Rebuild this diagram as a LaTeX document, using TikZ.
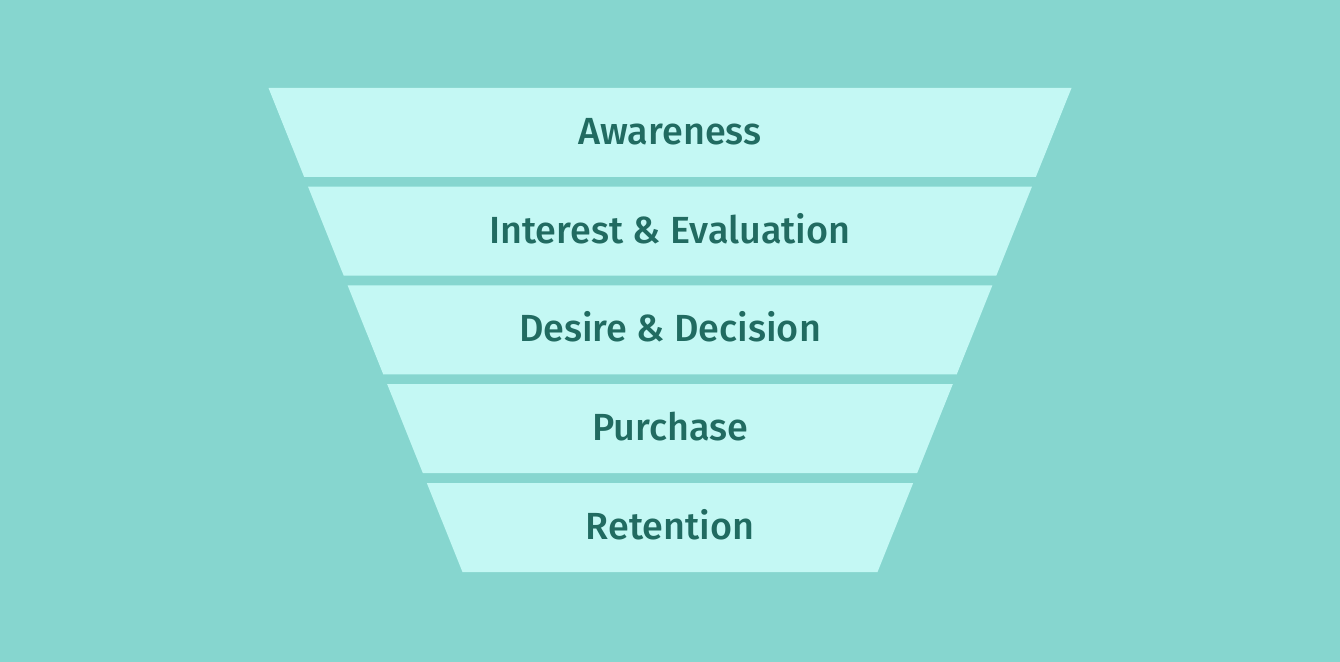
\documentclass[tikz,border=0pt]{standalone}
\usepackage{fontspec}
\setmainfont{Fira Sans}[BoldFont={Fira Sans Medium}]
\usepackage{xcolor}
\usetikzlibrary{calc}
\definecolor{FBack}{HTML}{86D6CF}
\definecolor{FBand}{HTML}{C4F8F4}
\definecolor{FInk}{HTML}{216B61}

\begin{document}
\begin{tikzpicture}[x=0.02cm,y=-0.02cm,
    every node/.style={align=center},
    stage/.style={font=\fontsize{21.5}{21.5}\selectfont\bfseries, text=FInk, anchor=base}]
  % background
  \fill[FBack] (0,0) rectangle (1340,662);

  % funnel bands, top to bottom
  \foreach \i/\name/\txt in {0/aware/Awareness,
      1/interest/{Interest \& Evaluation},
      2/desire/{Desire \& Decision},
      3/purchase/Purchase,
      4/retention/Retention} {
    \pgfmathsetmacro\ytop{88+98.75*\i}
    \pgfmathsetmacro\ybot{\ytop+89}
    \pgfmathsetmacro\wtop{401.5-0.4008*(\ytop-88)}
    \pgfmathsetmacro\wbot{401.5-0.4008*(\ybot-88)}
    \fill[FBand] (670-\wtop,\ytop) -- (670+\wtop,\ytop)
      -- (670+\wbot,\ybot) -- (670-\wbot,\ybot) -- cycle;
    \node[stage] (\name) at (670,\ytop+56.5) {\txt};
  }
\end{tikzpicture}
\end{document}
